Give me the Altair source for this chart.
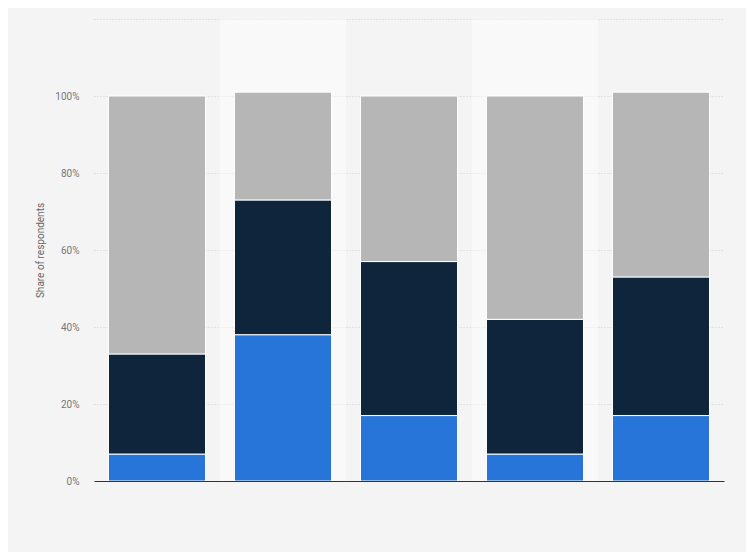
import altair as alt
import pandas as pd

categories = ["1", "2", "3", "4", "5"]
series = ["Series 1", "Series 2", "Series 3"]
blue_vals = [7, 38, 17, 7, 17]
navy_vals = [26, 35, 40, 35, 36]
gray_vals = [67, 28, 43, 58, 48]
band_cats = ["2", "4"]

rows = []
for i, c in enumerate(categories):
    for j, (s, v) in enumerate(zip(series, [blue_vals[i], navy_vals[i], gray_vals[i]])):
        rows.append({"category": c, "series": s, "value": v, "order": j})
df = pd.DataFrame(rows)
bands = pd.DataFrame({"category": band_cats, "y0": [0, 0], "y1": [120, 120]})

xscale = alt.Scale(domain=categories, paddingInner=0, paddingOuter=0)
yscale = alt.Scale(domain=[0, 120], nice=False)

band_layer = alt.Chart(bands).mark_rect(color="#ffffff", opacity=0.45).encode(
    x=alt.X("category:N", scale=xscale, sort=categories),
    y=alt.Y("y0:Q", scale=yscale),
    y2="y1:Q",
)

bars = alt.Chart(df).mark_bar(width={"band": 0.77}, stroke="#ffffff", strokeWidth=1).encode(
    x=alt.X("category:N", scale=xscale, sort=categories,
            axis=alt.Axis(labels=False, ticks=False, title=None,
                          domainColor="#333333", domainWidth=1)),
    y=alt.Y("value:Q", stack="zero", scale=yscale,
            axis=alt.Axis(values=[0, 20, 40, 60, 80, 100, 120],
                          labelExpr="datum.value >= 120 ? '' : datum.value + '%'",
                          title="Share of respondents", titleFontSize=10,
                          titleColor="#666666", titleFontWeight="normal",
                          titleFont="Roboto", titlePadding=9,
                          labelFont="Roboto", labelFontSize=10, labelColor="#777777",
                          labelPadding=15, ticks=False, domain=False,
                          grid=True, gridColor="#cfcfcf", gridDash=[1, 2], gridWidth=1)),
    color=alt.Color("series:N", scale=alt.Scale(domain=series,
                    range=["#2775d8", "#0f253c", "#b6b6b6"]), legend=None),
    order=alt.Order("order:Q"),
)

chart = alt.layer(band_layer, bars).properties(
    width=630, height=462,
    background="#f4f4f4",
    padding={"left": 86, "top": 11, "right": 22, "bottom": 71},
    autosize=alt.AutoSizeParams(type="none"),
).configure_view(stroke=None)

chart.save("out.html", embed_options={"renderer": "svg", "actions": False})
